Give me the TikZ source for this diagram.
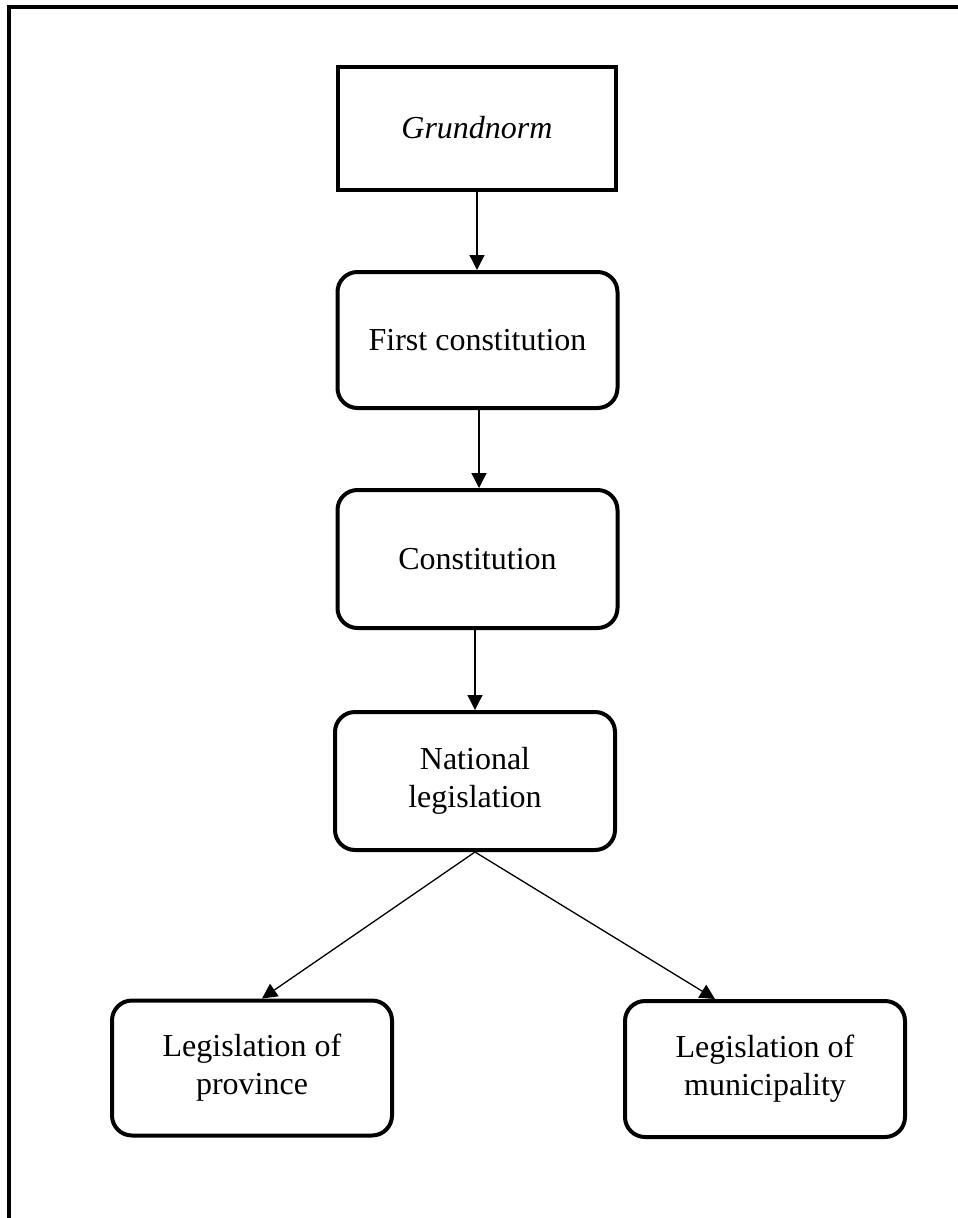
\documentclass[tikz,border=0pt]{standalone}
\usepackage{fontspec}
\setmainfont{Liberation Serif}
\usetikzlibrary{arrows.meta}
\tikzset{
  box/.style={draw, line width=4pt, minimum width=280pt, inner sep=0pt, align=center,
    font=\fontsize{32pt}{38pt}\selectfont},
  rbox/.style={box, rounded corners=20pt},
  conn/.style={line width=1.3pt, -{Triangle[width=15pt,length=15pt]}}
}
\begin{document}
\begin{tikzpicture}[x=1pt,y=-1pt]
\useasboundingbox (0,0) rectangle (958,1218);
\draw[line width=4pt] (9,1218) -- (9,7) -- (958,7);
\node[box, minimum width=278pt, minimum height=123pt] (g) at (477,128) {\itshape Grundnorm};
\node[rbox, minimum height=136pt] (fc) at (477.5,340) {First constitution};
\node[rbox, minimum height=138pt] (c) at (477.5,559) {Constitution};
\node[rbox, minimum height=138pt] (nl) at (475,781) {National\\legislation};
\node[rbox, minimum height=135pt] (lp) at (252,1068) {Legislation of\\province};
\node[rbox, minimum height=136pt] (lm) at (765,1069) {Legislation of\\municipality};
\draw[conn] (g.south) -- (g.south |- fc.north);
\draw[conn] ([xshift=1.5pt]fc.south) -- ([xshift=1.5pt]c.north);
\draw[conn] (nl.north |- c.south) -- (nl.north);
\draw[conn] (nl.south) -- ([xshift=10pt]lp.north);
\draw[conn] (nl.south) -- ([xshift=-50pt]lm.north);
\end{tikzpicture}
\end{document}
